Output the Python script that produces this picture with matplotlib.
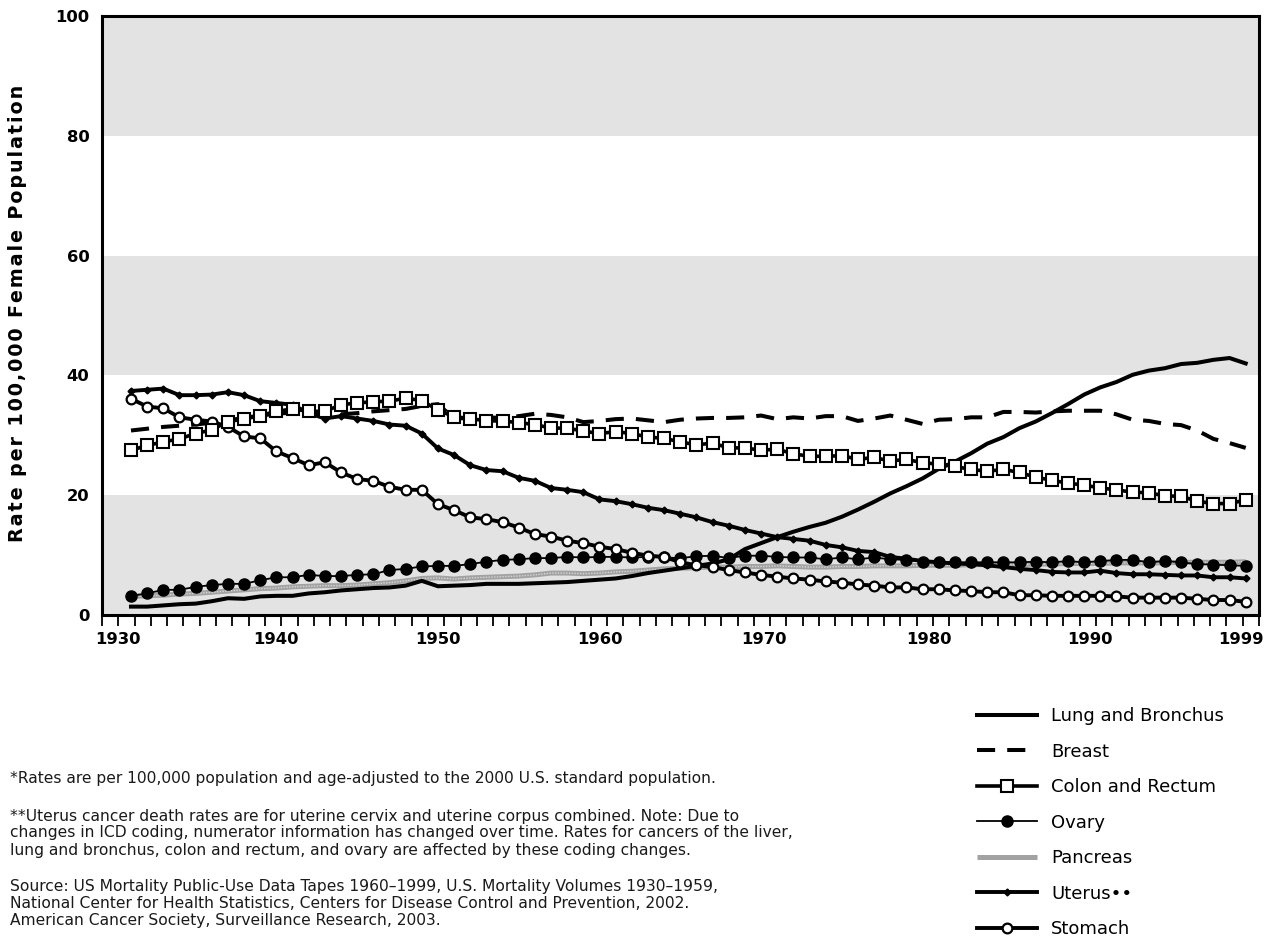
import numpy as np
import matplotlib
matplotlib.use("Agg")
import matplotlib.pyplot as plt
from matplotlib.lines import Line2D

# Cancer death rates among women, 1930-1999
years = np.arange(1930, 2000)

lung = [1.4, 1.4, 1.6, 1.8, 1.9, 2.3, 2.8, 2.7, 3.1, 3.2,
        3.2, 3.6, 3.8, 4.1, 4.3, 4.5, 4.6, 4.9, 5.7, 4.8,
        4.9, 5.0, 5.2, 5.2, 5.2, 5.3, 5.4, 5.5, 5.7, 5.9,
        6.1, 6.5, 7.0, 7.4, 7.8, 8.2, 8.6, 9.3, 11.0, 12.0,
        13.0, 13.9, 14.7, 15.4, 16.4, 17.6, 18.9, 20.3, 21.5, 22.8,
        24.4, 25.6, 27.0, 28.6, 29.7, 31.2, 32.3, 33.7, 35.2, 36.8,
        38.0, 38.9, 40.1, 40.8, 41.2, 41.9, 42.1, 42.6, 42.9, 42.0]

breast = [30.8, 31.1, 31.4, 31.6, 31.8, 32.1, 32.5, 32.9, 33.3, 33.6,
          33.8, 33.6, 33.4, 33.5, 33.7, 34.0, 34.2, 34.4, 34.9, 35.2,
          32.8, 32.9, 33.0, 32.9, 33.2, 33.6, 33.4, 33.0, 32.2, 32.4,
          32.7, 32.8, 32.5, 32.2, 32.6, 32.8, 32.9, 32.9, 33.0, 33.3,
          32.7, 33.0, 32.8, 33.2, 33.2, 32.4, 32.8, 33.3, 32.6, 31.9,
          32.6, 32.7, 33.0, 33.0, 33.9, 33.9, 33.8, 34.0, 34.1, 34.1,
          34.1, 33.5, 32.6, 32.4, 31.9, 31.7, 30.8, 29.4, 28.7, 27.9]

colon = [27.5, 28.3, 28.9, 29.4, 30.3, 30.9, 32.3, 32.7, 33.3, 34.0,
         34.4, 34.0, 34.0, 35.1, 35.4, 35.6, 35.7, 36.2, 35.8, 34.2,
         33.1, 32.8, 32.4, 32.4, 32.1, 31.8, 31.2, 31.2, 30.7, 30.3,
         30.6, 30.3, 29.7, 29.5, 28.9, 28.4, 28.7, 27.9, 27.9, 27.5,
         27.7, 26.9, 26.5, 26.5, 26.6, 26.0, 26.3, 25.7, 26.0, 25.4,
         25.2, 24.8, 24.3, 24.0, 24.3, 23.8, 23.0, 22.5, 22.0, 21.7,
         21.2, 20.9, 20.5, 20.4, 19.9, 19.8, 19.0, 18.6, 18.6, 19.2]

ovary = [3.2, 3.6, 4.2, 4.2, 4.7, 5.0, 5.2, 5.2, 5.8, 6.3,
         6.3, 6.7, 6.5, 6.5, 6.7, 6.8, 7.5, 7.7, 8.1, 8.2,
         8.2, 8.5, 8.9, 9.2, 9.3, 9.5, 9.5, 9.7, 9.6, 9.7,
         9.7, 9.6, 9.7, 9.6, 9.5, 9.8, 9.9, 9.5, 9.9, 9.9,
         9.7, 9.6, 9.6, 9.3, 9.6, 9.3, 9.6, 9.3, 9.2, 8.9,
         8.9, 8.8, 8.8, 8.8, 8.8, 8.8, 8.9, 8.8, 9.0, 8.8,
         9.0, 9.2, 9.2, 8.8, 9.0, 8.8, 8.5, 8.4, 8.3, 8.2]

pancreas = [3.1, 3.2, 3.3, 3.5, 3.6, 3.8, 4.0, 4.2, 4.4, 4.5,
            4.7, 4.8, 4.9, 4.9, 5.0, 5.2, 5.4, 5.7, 6.1, 6.2,
            6.0, 6.2, 6.3, 6.4, 6.5, 6.7, 7.0, 7.0, 6.9, 7.0,
            7.2, 7.3, 7.5, 7.7, 7.8, 7.9, 8.0, 8.0, 8.1, 8.1,
            8.2, 8.1, 8.0, 8.0, 8.1, 8.1, 8.2, 8.2, 8.2, 8.3,
            8.3, 8.3, 8.4, 8.4, 8.4, 8.4, 8.5, 8.5, 8.6, 8.6,
            8.6, 8.7, 8.7, 8.7, 8.7, 8.8, 8.8, 8.8, 8.8, 8.9]

uterus = [37.4, 37.6, 37.8, 36.7, 36.7, 36.8, 37.2, 36.7, 35.7, 35.4,
          35.1, 33.7, 32.8, 33.2, 32.8, 32.4, 31.8, 31.6, 30.3, 27.8,
          26.7, 25.0, 24.2, 24.0, 22.9, 22.4, 21.2, 20.9, 20.5, 19.3,
          19.0, 18.5, 17.9, 17.5, 16.9, 16.3, 15.5, 14.9, 14.2, 13.6,
          13.0, 12.7, 12.4, 11.7, 11.3, 10.7, 10.5, 9.7, 9.4, 9.0,
          8.8, 8.6, 8.5, 8.3, 8.0, 7.7, 7.5, 7.2, 7.1, 7.1,
          7.4, 7.0, 6.8, 6.8, 6.7, 6.6, 6.6, 6.3, 6.3, 6.1]

stomach = [36.1, 34.8, 34.5, 33.0, 32.6, 32.3, 31.4, 29.8, 29.5, 27.3,
           26.2, 25.0, 25.5, 23.8, 22.7, 22.4, 21.4, 20.9, 20.9, 18.5,
           17.5, 16.3, 16.0, 15.5, 14.6, 13.5, 13.1, 12.4, 12.0, 11.4,
           11.0, 10.4, 9.9, 9.7, 8.8, 8.3, 8.0, 7.5, 7.1, 6.7,
           6.4, 6.1, 5.9, 5.6, 5.4, 5.1, 4.9, 4.6, 4.6, 4.3,
           4.3, 4.1, 4.0, 3.8, 3.8, 3.3, 3.3, 3.2, 3.2, 3.2,
           3.2, 3.1, 2.9, 2.9, 2.9, 2.9, 2.7, 2.5, 2.5, 2.2]

tick_years = ["1930", "1940", "1950", "1960", "1970", "1980", "1990", "1999"]
legend_labels = ["Lung and Bronchus", "Breast", "Colon and Rectum", "Ovary",
                 "Pancreas", "Uterus\u2022\u2022", "Stomach"]
ylabel = "Rate per 100,000 Female Population"

footnotes = [
    "*Rates are per 100,000 population and age-adjusted to the 2000 U.S. standard population.",
    "**Uterus cancer death rates are for uterine cervix and uterine corpus combined. Note: Due to",
    "changes in ICD coding, numerator information has changed over time. Rates for cancers of the liver,",
    "lung and bronchus, colon and rectum, and ovary are affected by these coding changes.",
    "Source: US Mortality Public-Use Data Tapes 1960\u20131999, U.S. Mortality Volumes 1930\u20131959,",
    "National Center for Health Statistics, Centers for Disease Control and Prevention, 2002.",
    "American Cancer Society, Surveillance Research, 2003.",
]
footnote_y = [778, 816, 833, 850, 886, 903, 920]

W, H = 1273, 939
fig = plt.figure(figsize=(W / 100, H / 100), dpi=100)
ax = fig.add_axes([102 / W, 1 - 615 / H, (1259 - 102) / W, (615 - 16) / H])

# grey bands
for lo in (0, 40, 80):
    ax.axhspan(lo, lo + 20, color="#e3e3e3", zorder=0, lw=0)

# styles for each series
styles = {
    "pancreas": dict(color="#a2a2a2", lw=3.6, solid_capstyle="butt"),
    "lung": dict(color="black", lw=2.9),
    "breast": dict(color="black", lw=2.9, ls=(0, (4.5, 3.0))),
    "ovary": dict(color="black", lw=1.3, marker="o", ms=8.0, mfc="black", mec="black"),
    "uterus": dict(color="black", lw=2.8, marker="D", ms=3.5, mfc="black", mec="black"),
    "stomach": dict(color="black", lw=2.8, marker="o", ms=7.0, mfc="white", mec="black", mew=1.6),
    "colon": dict(color="black", lw=2.6, marker="s", ms=9.0, mfc="white", mec="black", mew=1.5),
}

ax.plot(years, pancreas, zorder=2, **styles["pancreas"])
ax.plot(years, pancreas, color="#d6d6d6", lw=1.0, ls=(0, (1, 1)), zorder=2)
ax.plot(years, lung, zorder=3, **styles["lung"])
ax.plot(years, breast, zorder=3, **styles["breast"])
ax.plot(years, ovary, zorder=4, **styles["ovary"])
ax.plot(years, uterus, zorder=4, **styles["uterus"])
ax.plot(years, stomach, zorder=5, **styles["stomach"])
ax.plot(years, colon, zorder=6, **styles["colon"])

# axis ranges: data 1930 -> 131 px, 1999 -> 1246 px
px_per_year = (1246 - 131) / 69
x_left = 1930 - (131 - 102) / px_per_year
x_right = 1999 + (1259 - 1246) / px_per_year
ax.set_xlim(x_left, x_right)
ax.set_ylim(0, 100)

label_px = [118, 276, 438, 600, 764, 929, 1090, 1241]
label_pos = [1930 + (p - 131) / px_per_year for p in label_px]
ax.set_xticks(label_pos)
ax.set_xticklabels(tick_years)
ax.tick_params(axis="x", which="major", length=0, pad=12)
ax.set_xticks(np.linspace(x_left, x_left + 71 * 16.3 / px_per_year, 72), minor=True)
ax.tick_params(axis="x", which="minor", length=8, width=1.3, direction="out", color="black")

ax.set_yticks([0, 20, 40, 60, 80, 100])
ax.tick_params(axis="y", length=0, pad=9)
for lab in ax.get_xticklabels() + ax.get_yticklabels():
    lab.set_fontfamily("DejaVu Sans")
    lab.set_fontweight("bold")
    lab.set_fontsize(11.8)

for s in ax.spines.values():
    s.set_linewidth(2.2)
    s.set_color("black")
    s.set_zorder(10)

# wide letter spacing of the original, done with hair spaces
spaced = "\u200a".join(ylabel)
fig.text(18 / W, 1 - 313 / H, spaced,
         rotation=90, ha="center", va="center", fontsize=13.8,
         fontweight="bold", family="DejaVu Sans")

# legend
handles = [
    Line2D([], [], **styles["lung"]),
    Line2D([], [], **styles["breast"]),
    Line2D([], [], **styles["colon"]),
    Line2D([], [], **styles["ovary"]),
    Line2D([], [], **styles["pancreas"]),
    Line2D([], [], **styles["uterus"]),
    Line2D([], [], **styles["stomach"]),
]
fig.legend(handles, legend_labels, loc="upper left",
           bbox_to_anchor=(977 / W, 1 - 707 / H), frameon=False,
           prop={"family": "DejaVu Sans", "size": 13},
           handlelength=3.3, handletextpad=0.8, labelspacing=0.97,
           borderpad=0, borderaxespad=0, numpoints=1)

for txt, y in zip(footnotes, footnote_y):
    fig.text(10 / W, 1 - y / H, txt, ha="left", va="center",
             fontsize=11.2, family=["Liberation Sans Narrow", "DejaVu Sans"],
             color="#1a1a1a")

fig.savefig("out.png", dpi=100)
